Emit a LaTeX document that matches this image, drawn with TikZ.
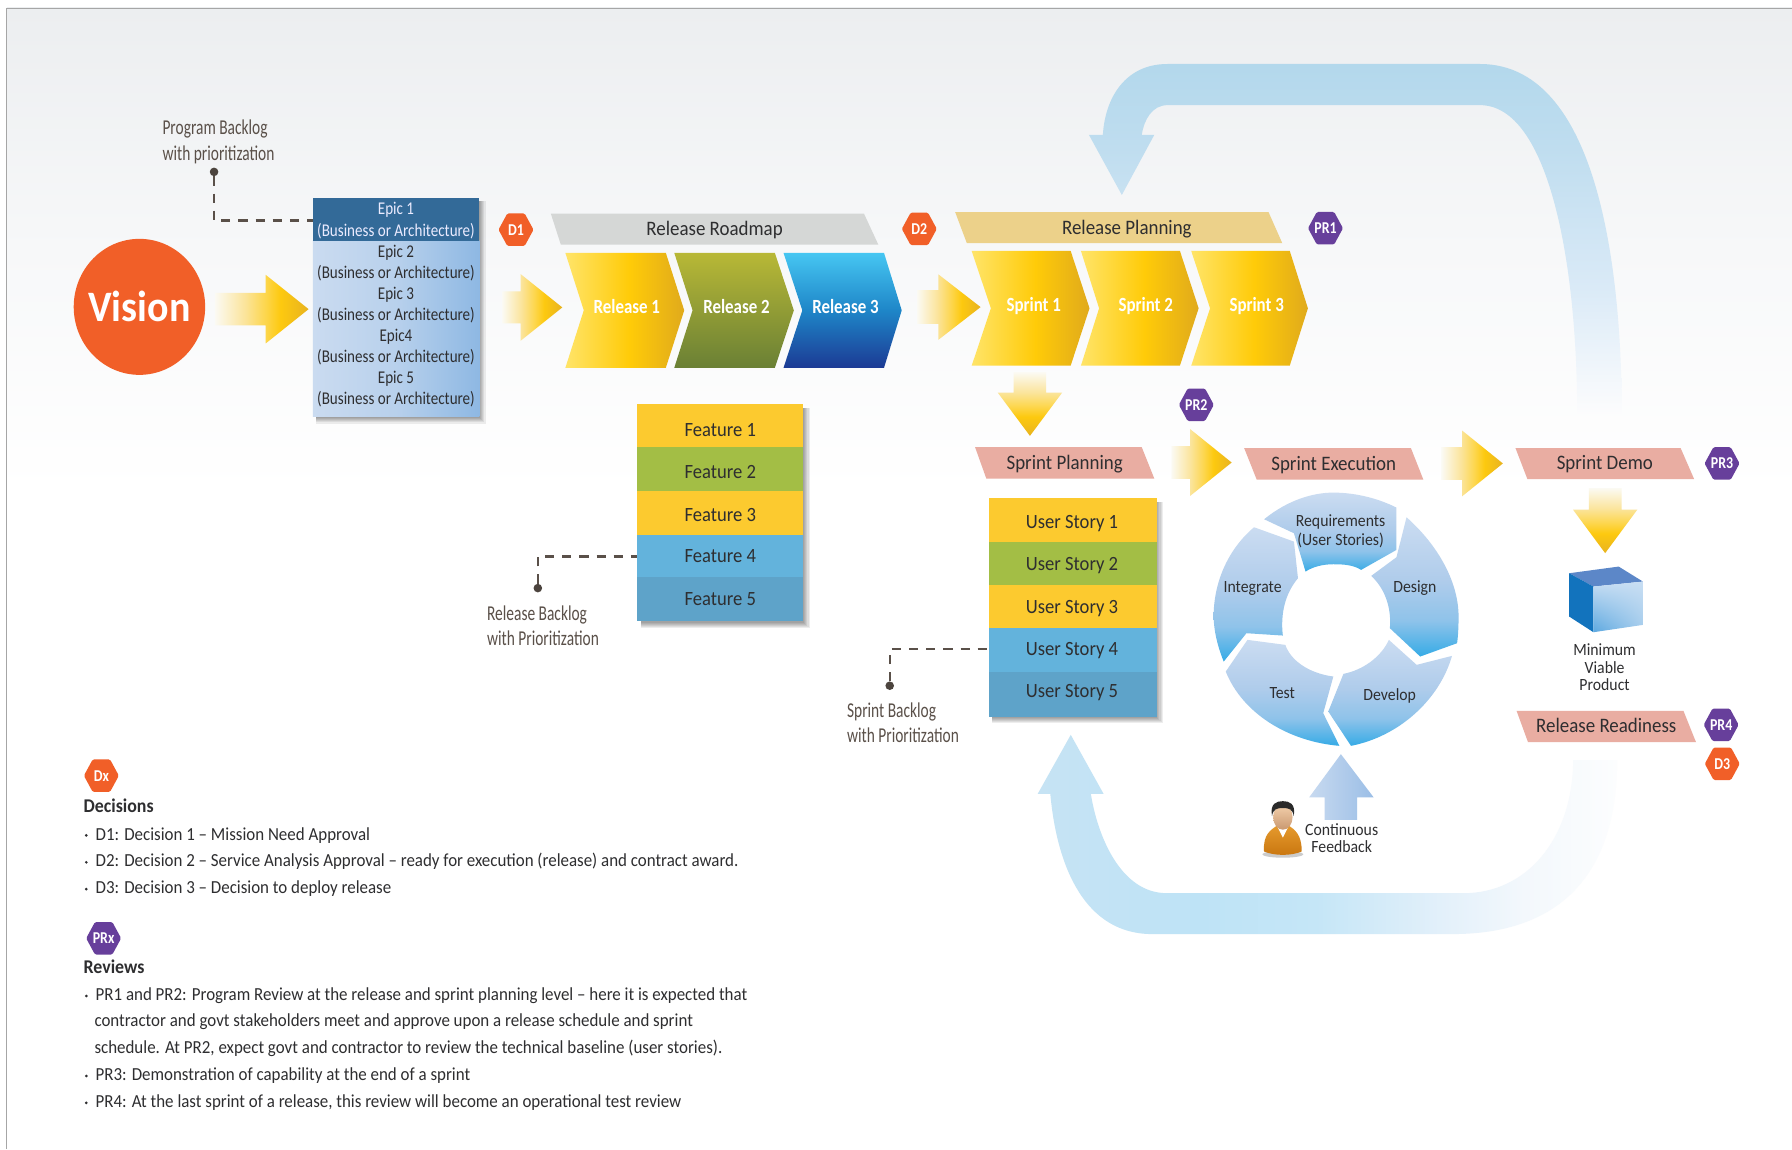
\documentclass[tikz,border=0pt]{standalone}
\usepackage{fontspec}
\usetikzlibrary{shapes.geometric,shadings}
\setmainfont{Carlito}
\newfontfamily\cond[FakeStretch=0.84]{Carlito}
\newfontfamily\condn[FakeStretch=0.73]{Carlito}
\newfontfamily\body[FakeStretch=0.92]{Carlito}
\definecolor{Orng}{HTML}{F15F28}
\definecolor{Purp}{HTML}{673F9B}
\definecolor{Txt}{HTML}{2E2E30}
\definecolor{Brn}{HTML}{5A5049}
\definecolor{PinkB}{HTML}{E9ADA2}
\definecolor{SandB}{HTML}{ECD18A}
\definecolor{GreyB}{HTML}{D5D7D6}
\definecolor{GoldA}{HTML}{FCCA2F}
\definecolor{GrnA}{HTML}{A3BE45}
\definecolor{BluA}{HTML}{63B3DC}
\definecolor{BluB}{HTML}{5EA3C9}
\definecolor{EpicTop}{HTML}{336A98}
\definecolor{EpicL}{HTML}{CADBF0}
\definecolor{EpicR}{HTML}{8EB8E3}
\definecolor{Bg1}{HTML}{ECEEF0}\definecolor{Bg2}{HTML}{F7F8F9}
\definecolor{Fa}{HTML}{C8DAF0}\definecolor{Fb}{HTML}{9BBEE6}
\definecolor{Pa}{HTML}{E59A2E}\definecolor{Pb}{HTML}{C9760F}
\definecolor{Pc}{HTML}{F3D0AC}\definecolor{Pd}{HTML}{C99870}\definecolor{Pe}{HTML}{2A2A2A}
\definecolor{Ca}{HTML}{5C87C8}\definecolor{Cb}{HTML}{1273BD}\definecolor{Cc}{HTML}{5CA8E0}\definecolor{Cd}{HTML}{C8DEF3}\definecolor{Ce}{HTML}{A5CCEC}
\definecolor{Y1}{HTML}{FFE469}\definecolor{Y2}{HTML}{FFCB08}\definecolor{Y3}{HTML}{E0AA1C}
\definecolor{Tl}{HTML}{FBFAF3}\definecolor{Tm}{HTML}{FBE49B}\definecolor{Tn}{HTML}{FDD64C}\definecolor{Tg}{HTML}{FDC90F}\definecolor{Td}{HTML}{E8B320}
\pgfdeclarehorizontalshading{yarrowb}{100bp}{color(0bp)=(Tl); color(25bp)=(Tl); color(41bp)=(Tm); color(52bp)=(Tn); color(60bp)=(Tg); color(75bp)=(Td); color(100bp)=(Td)}
\pgfdeclarehorizontalshading{gold}{100bp}{color(0bp)=(Y1); color(25bp)=(Y1); color(52bp)=(Y2); color(75bp)=(Y3); color(100bp)=(Y3)}
\definecolor{Wa}{HTML}{36ABE6}\definecolor{Wb}{HTML}{8FC3EA}\definecolor{Wc}{HTML}{AFCCEB}\definecolor{Wd}{HTML}{CBDCF1}
\pgfdeclareverticalshading{wheelseg}{100bp}{color(0bp)=(Wa); color(25bp)=(Wa); color(38bp)=(Wb); color(52bp)=(Wc); color(75bp)=(Wd); color(100bp)=(Wd)}
\definecolor{Ta}{HTML}{B3D8EC}\definecolor{Tb}{HTML}{BFDDEF}\definecolor{Tc}{HTML}{DAEAF7}\definecolor{Te}{HTML}{FCFCFD}
\pgfdeclareverticalshading{loopT}{100bp}{color(0bp)=(Te); color(25bp)=(Te); color(43bp)=(Tc); color(63bp)=(Tb); color(75bp)=(Ta); color(100bp)=(Ta)}
\definecolor{Ba}{HTML}{C6E3F4}\definecolor{Bb}{HTML}{BEE3F6}\definecolor{Bc}{HTML}{C5E6F7}\definecolor{Bd}{HTML}{E3F0FA}\definecolor{Bf}{HTML}{F3F8FC}\definecolor{Be}{HTML}{FCFDFE}
\pgfdeclarehorizontalshading{loopB}{100bp}{color(0bp)=(Ba); color(25bp)=(Ba); color(39bp)=(Bb); color(49bp)=(Bc); color(60bp)=(Bd); color(67bp)=(Bf); color(75bp)=(Be); color(100bp)=(Be)}
\definecolor{Ra}{HTML}{46C6F2}\definecolor{Rb}{HTML}{1E86C8}\definecolor{Rc}{HTML}{1C3A94}
\pgfdeclareverticalshading{relblue}{100bp}{color(0bp)=(Rc); color(25bp)=(Rc); color(50bp)=(Rb); color(75bp)=(Ra); color(100bp)=(Ra)}
\definecolor{Oa}{HTML}{B8B836}\definecolor{Ob}{HTML}{6A8035}
\tikzset{
 note/.style={inner sep=0pt,text=Brn,align=left,anchor=north west,font=\condn\fontsize{18.5}{22}\selectfont},
 chevtext/.style={inner sep=0pt,text=white,font=\cond\bfseries\fontsize{17.6}{20}\selectfont},
 bantext/.style={inner sep=0pt,text=Txt,text height=11pt,text depth=0pt,font=\body\fontsize{18}{20}\selectfont},
 rowtext/.style={inner sep=0pt,text=Txt,text height=11pt,text depth=0pt,font=\body\fontsize{17.7}{20}\selectfont},
 wheeltext/.style={inner sep=0pt,text=Txt,align=center,font=\body\fontsize{15}{16}\selectfont},
 smalltext/.style={inner sep=0pt,text=Txt,align=center,font=\body\fontsize{15}{15}\selectfont},
 legend/.style={inner sep=0pt,anchor=base west,text=Txt,font=\body\fontsize{16.1}{18}\selectfont},
 legendhead/.style={inner sep=0pt,anchor=base west,text=Txt,font=\body\bfseries\fontsize{17}{18}\selectfont},
 bullet/.style={circle,fill=Txt,inner sep=0pt,minimum size=2.6pt},
 dot/.style={circle,fill=Brn!85!black,inner sep=0pt,minimum size=7.5pt},
 dashline/.style={draw=Brn,line width=2pt,dash pattern=on 8pt off 7pt},
 hextext/.style={inner sep=0pt,text=white,font=\cond\bfseries\fontsize{14.5}{15}\selectfont},
}
\newcommand{\hexa}[5]{%
 \begin{scope}[shift={(#2,#3)}]
 \fill[#4,rounded corners=1.2pt] (-15.3,0)--(-7.6,-14.2)--(7.6,-14.2)--(15.3,0)--(7.6,14.2)--(-7.6,14.2)--cycle;
 \node[hextext] (#1) at (0,0) {#5};
 \end{scope}}
\newcommand{\banner}[9]{%
 \fill[#8] (#2,#6)--(#3,#6)--(#4,#7)--(#5,#7)--cycle;
 \node[bantext] (#1) at ({(#2+#4)/2},{(#6+#7)/2}) {#9};}
\newcommand{\chev}[7]{%
 \shade[#7] (#1,#5)--(#2,#5)--(#3,{(#5+#6)/2})--(#2,#6)--(#1,#6)--(#4,{(#5+#6)/2})--cycle;}
\newcommand{\harrow}[6]{%
 \shade[shading=yarrowb] (#1,{#4-#6})--(#2,{#4-#6})--(#2,{#4-#5})--(#3,#4)--(#2,{#4+#5})--(#2,{#4+#6})--(#1,{#4+#6})--cycle;}
\newcommand{\varrow}[6]{%
 \shade[shading=yarrowb,shading angle=-90] ({#4-#6},#1)--({#4-#6},#2)--({#4-#5},#2)--(#4,#3)--({#4+#5},#2)--({#4+#6},#2)--({#4+#6},#1)--cycle;}
\newcommand{\softshadow}[4]{%
 \foreach \dd in {0,1,2,3,4,5}{
  \fill[black,opacity=.07] ({#1+3},{#2+3}) rectangle ({#3+5.5-\dd},{#4+6-\dd});}}
\begin{document}
\begin{tikzpicture}[x=1pt,y=-1pt]
\useasboundingbox (0,0) rectangle (1568,1005.4);
\fill[white] (0,0) rectangle (1568,1005.4);
\shade[top color=Bg1,bottom color=white,middle color=Bg2] (6,7) rectangle (1568,430);
\draw[black!35,line width=.8pt] (6,1005.4)--(6,7)--(1568,7);

% feedback loops
\shade[shading=loopT] (1419,361.5) .. controls (1419,260) and (1405,56) .. (1295,56) -- (1021.5,56)
 .. controls (985,56) and (967,85) .. (965,118) -- (952.8,118) -- (981.6,170.6) -- (1010,118) -- (999,118)
 .. controls (1001,105) and (1008,92) .. (1021.5,92) -- (1295,92)
 .. controls (1355,92) and (1380,230) .. (1380,361.5) -- cycle;
\shade[shading=loopB] (919,694.6) .. controls (925,760) and (950,817) .. (1007.6,817.3) -- (1272,817.3)
 .. controls (1360,817) and (1415,770) .. (1415,665) -- (1376.5,665)
 .. controls (1376,735) and (1335,781.5) .. (1281,781.5) -- (1020.8,781.5)
 .. controls (980,781.5) and (960,730) .. (954.5,694.6) -- (965.6,694.6) -- (936.9,643) -- (908,694.6) -- cycle;

% vision
\fill[Orng] (122,268.5) ellipse [x radius=57.5pt,y radius=59.5pt];
\node[inner sep=0pt,text=white,font=\body\bfseries\fontsize{38}{40}\selectfont] (vision) at (122,268.5) {Vision};

% yellow arrows
\harrow{188}{232.5}{270}{270.5}{30}{14.2}
\harrow{439.5}{455.5}{492}{269}{29.2}{14}
\harrow{802.4}{821}{858}{268.7}{28.7}{14.8}
\varrow{325.7}{343.5}{381.4}{901.2}{28.2}{14.2}
\harrow{1025}{1041.4}{1077.7}{404.7}{29.2}{14.3}
\harrow{1261.4}{1279.3}{1315}{405.5}{28.8}{14.3}
\varrow{427}{446}{484}{1404.5}{28.1}{14.3}

% epics
\softshadow{273.7}{173}{419.4}{364.6}
\shade[left color=EpicL,right color=EpicR,middle color=EpicL!70!EpicR] (273.7,210.5) rectangle (419.4,364.6);
\fill[EpicTop] (273.7,173) rectangle (419.4,210.5);
\foreach \nm/\tx/\cl/\yy in {epica/Epic 1/white!92!blue/193,epicb/Epic 2/Txt/230,epicc/Epic 3/Txt/266.8,epicd/Epic4/Txt/304,epice/Epic 5/Txt/340.5}{
 \node[inner sep=0pt,minimum width=145.7pt,minimum height=37pt,align=center,text=\cl,font=\cond\fontsize{15.7}{18.5}\selectfont] (\nm) at (346.5,\yy) {\tx\\(Business or Architecture)};
}

% hexagons
\hexa{d1}{451.5}{201}{Orng}{D1}
\hexa{d2}{804.4}{200.3}{Orng}{D2}
\hexa{pr1}{1159.8}{199.7}{Purp}{PR1}
\hexa{pr2}{1046.8}{354.2}{Purp}{PR2}
\hexa{pr3}{1506.8}{405.5}{Purp}{PR3}
\hexa{pr4}{1506}{634.2}{Purp}{PR4}
\hexa{d3}{1507}{668.3}{Orng}{D3}

% banners
\banner{roadmap}{482}{756}{768.5}{490.7}{187}{214}{GreyB}{Release Roadmap}
\fill[SandB] (835.8,185.7)--(1110,185.7)--(1122,212.8)--(846,212.8)--cycle;
\node[bantext] (relplan) at (986,200) {Release Planning};
\banner{spplan}{853.2}{999}{1010}{863}{391.3}{418.7}{PinkB}{Sprint Planning}
\banner{spexec}{1088.6}{1234.5}{1245.4}{1099.6}{392}{419.6}{PinkB}{Sprint Execution}
\banner{spdemo}{1326}{1470.5}{1482.4}{1336.5}{392}{419.3}{PinkB}{Sprint Demo}
\banner{relread}{1327}{1473}{1484}{1337}{622}{649.4}{PinkB}{Release Readiness}

% chevrons
\chev{494.7}{582.6}{598.7}{510.8}{221.3}{321.8}{shading=gold}
\node[chevtext] (rel1) at (548.5,268.5) {Release 1};
\chev{590}{678}{694.6}{606}{221.3}{321.8}{top color=Oa,bottom color=Ob}
\node[chevtext] (rel2) at (644.4,268.5) {Release 2};
\chev{685.6}{773.5}{789}{702}{221.3}{321.8}{shading=relblue}
\node[chevtext] (rel3) at (739.8,268.5) {Release 3};
\chev{850.2}{936.8}{953.3}{867}{219.5}{320}{shading=gold}
\node[chevtext] (sp1) at (904.5,268.2) {Sprint 1};
\chev{945.8}{1032.4}{1048.8}{961.7}{219.5}{320}{shading=gold}
\node[chevtext] (sp2) at (1002.5,268.2) {Sprint 2};
\chev{1042.3}{1128.5}{1144.4}{1058.8}{219.5}{320}{shading=gold}
\node[chevtext] (sp3) at (1099.6,268.2) {Sprint 3};

% features
\softshadow{557.5}{353.6}{703}{543.7}
\foreach \nm/\tx/\cl/\ya/\yb/\yt in {fa/Feature 1/GoldA/353.6/391.4/376.5,fb/Feature 2/GrnA/391.4/430/413.5,fc/Feature 3/GoldA/430/467.7/450.5,fd/Feature 4/BluA/467.7/505.2/487,fe/Feature 5/BluB/505.2/543.7/524.5}{
 \fill[\cl] (557.5,\ya) rectangle (703,\yb);
 \node[rowtext,minimum width=145.5pt] (\nm) at (630.2,\yt) {\tx};
}
% user stories
\softshadow{865}{436}{1012}{627}
\foreach \nm/\tx/\cl/\ya/\yb/\yt in {ua/User Story 1/GoldA/436/473.9/457,ub/User Story 2/GrnA/473.9/511.8/494,uc/User Story 3/GoldA/511.8/549.7/531,ud/User Story 4/BluA/549.7/587.6/568,ue/User Story 5/BluB/587.6/627/605}{
 \fill[\cl] (865,\ya) rectangle (1012,\yb);
 \node[rowtext,minimum width=147pt] (\nm) at (938,\yt) {\tx};
}

% backlog notes
\node[note] (notea) at (142,105) {Program Backlog\\with prioritization};
\node[note] (noteb) at (426,529.5) {Release Backlog\\with Prioritization};
\node[note] (notec) at (741,615) {Sprint Backlog\\with Prioritization};
\node[dot] (dota) at (187.3,150.4) {};
\node[dot] (dotb) at (470.6,514.6) {};
\node[dot] (dotc) at (778.5,600) {};
\draw[dashline] (dota) |- (epica.west);
\draw[dashline] (dotb) |- (fd.west);
\draw[dashline] (dotc) |- (ud.west);

% wheel
\begin{scope}[shift={(875,411.2)},x=0.4419pt,y=-0.29155pt]
\shade[shading=wheelseg] (523,148) .. controls (570,90) and (620,68) .. (660,68) .. controls (710,68) and (755,90) .. (785,113) -- (785,240) -- (715,300) .. controls (700,285) and (680,283) .. (660,283) .. controls (640,283) and (620,290) .. (605,305) -- (582,190) -- cycle;
\shade[shading=wheelseg] (805,142) .. controls (870,230) and (908,340) .. (908,440) .. controls (908,470) and (907,500) .. (905,520) -- (832,560) -- (772,475) .. controls (775,420) and (765,360) .. (735,318) -- (785,262) -- cycle;
\shade[shading=wheelseg] (895,558) .. controls (870,690) and (790,800) .. (695,828) -- (650,725) -- (680,612) .. controls (720,600) and (755,560) .. (770,510) -- (825,585) -- cycle;
\shade[shading=wheelseg] (490,510) -- (565,525) .. controls (575,570) and (610,610) .. (660,620) -- (640,730) -- (672,828) .. controls (570,815) and (480,730) .. (447,605) -- cycle;
\shade[shading=wheelseg] (503,172) -- (582,215) -- (590,325) .. controls (565,370) and (555,430) .. (560,497) -- (488,490) -- (443,575) .. controls (428,520) and (423,470) .. (423,440) .. controls (423,340) and (450,240) .. (503,172) -- cycle;
% feedback arrow
\shade[left color=Fa,right color=Fb] (675,853) -- (740,983) -- (707,983) -- (707,1050) -- (643,1050) -- (643,983) -- (612,983) -- cycle;
\end{scope}
\node[wheeltext] (wreq) at (1173,465) {Requirements\\(User Stories)};
\node[wheeltext] (wint) at (1096,515) {Integrate};
\node[wheeltext] (wdes) at (1238,515) {Design};
\node[wheeltext] (wtes) at (1122,606) {Test};
\node[wheeltext] (wdev) at (1216,608.5) {Develop};

% person
\fill[black!45,opacity=.45] (1122.5,747.5) ellipse [x radius=18pt,y radius=3pt];
\shade[top color=Pa,bottom color=Pb] (1106,745) .. controls (1105,730) and (1112,726) .. (1118,722) -- (1127,722) .. controls (1133,726) and (1139,730) .. (1139,745) .. controls (1130,749) and (1115,749) .. (1106,745) -- cycle;
\fill[white] (1117,722)--(1122.5,733)--(1128,722)--cycle;
\shade[top color=Pc,bottom color=Pd] (1122.5,715) ellipse [x radius=8.5pt,y radius=11pt];
\fill[Pe] (1113,714) .. controls (1111,703) and (1117,701) .. (1122.5,701) .. controls (1128,701) and (1134,703) .. (1132,714) .. controls (1131,708) and (1128,707) .. (1122.5,707) .. controls (1117,707) and (1114,708) .. (1113,714) -- cycle;
\node[smalltext] (cfb) at (1174,733.5) {Continuous\\Feedback};

% cube
\begin{scope}[shift={(875,411.2)},x=0.4419pt,y=-0.29155pt]
\fill[Ca] (1127,310)--(1225,290)--(1273,335)--(1175,350)--cycle;
\fill[Cb] (1127,310)--(1175,350)--(1175,487)--(1127,440)--cycle;
\shade[lower left=Cc,upper right=Cd,lower right=Ce,upper left=Cd] (1175,350)--(1273,335)--(1273,465)--(1175,487)--cycle;
\end{scope}
\node[smalltext,font=\body\fontsize{15}{15.2}\selectfont] (mvp) at (1404,584) {Minimum\\Viable\\Product};

% legend
\hexa{dx}{88.7}{678.7}{Orng}{Dx}
\hexa{prx}{90.7}{821}{Purp}{PRx}
\node[legendhead] (dh) at (73,711) {Decisions};
\node[legendhead] (rh) at (73,852) {Reviews};
\foreach \nm/\yy/\tx in {
 la/735/{D1: Decision 1 – Mission Need Approval},
 lb/758.5/{D2: Decision 2 – Service Analysis Approval – ready for execution (release) and contract award.},
 lc/782/{D3: Decision 3 – Decision to deploy release},
 ld/875.5/{PR1 and PR2: Program Review at the release and sprint planning level – here it is expected that},
 lg/945.5/{PR3: Demonstration of capability at the end of a sprint},
 lh/969/{PR4: At the last sprint of a release, this review will become an operational test review}}{
 \node[legend] (\nm) at (83.5,\yy) {\tx};
 \node[bullet] (b\nm) at (75.5,{\yy-4}) {};
}
\node[legend] (le) at (82.5,898.5) {contractor and govt stakeholders meet and approve upon a release schedule and sprint};
\node[legend] (lf) at (82.5,922) {schedule. At PR2, expect govt and contractor to review the technical baseline (user stories).};
\end{tikzpicture}
\end{document}
